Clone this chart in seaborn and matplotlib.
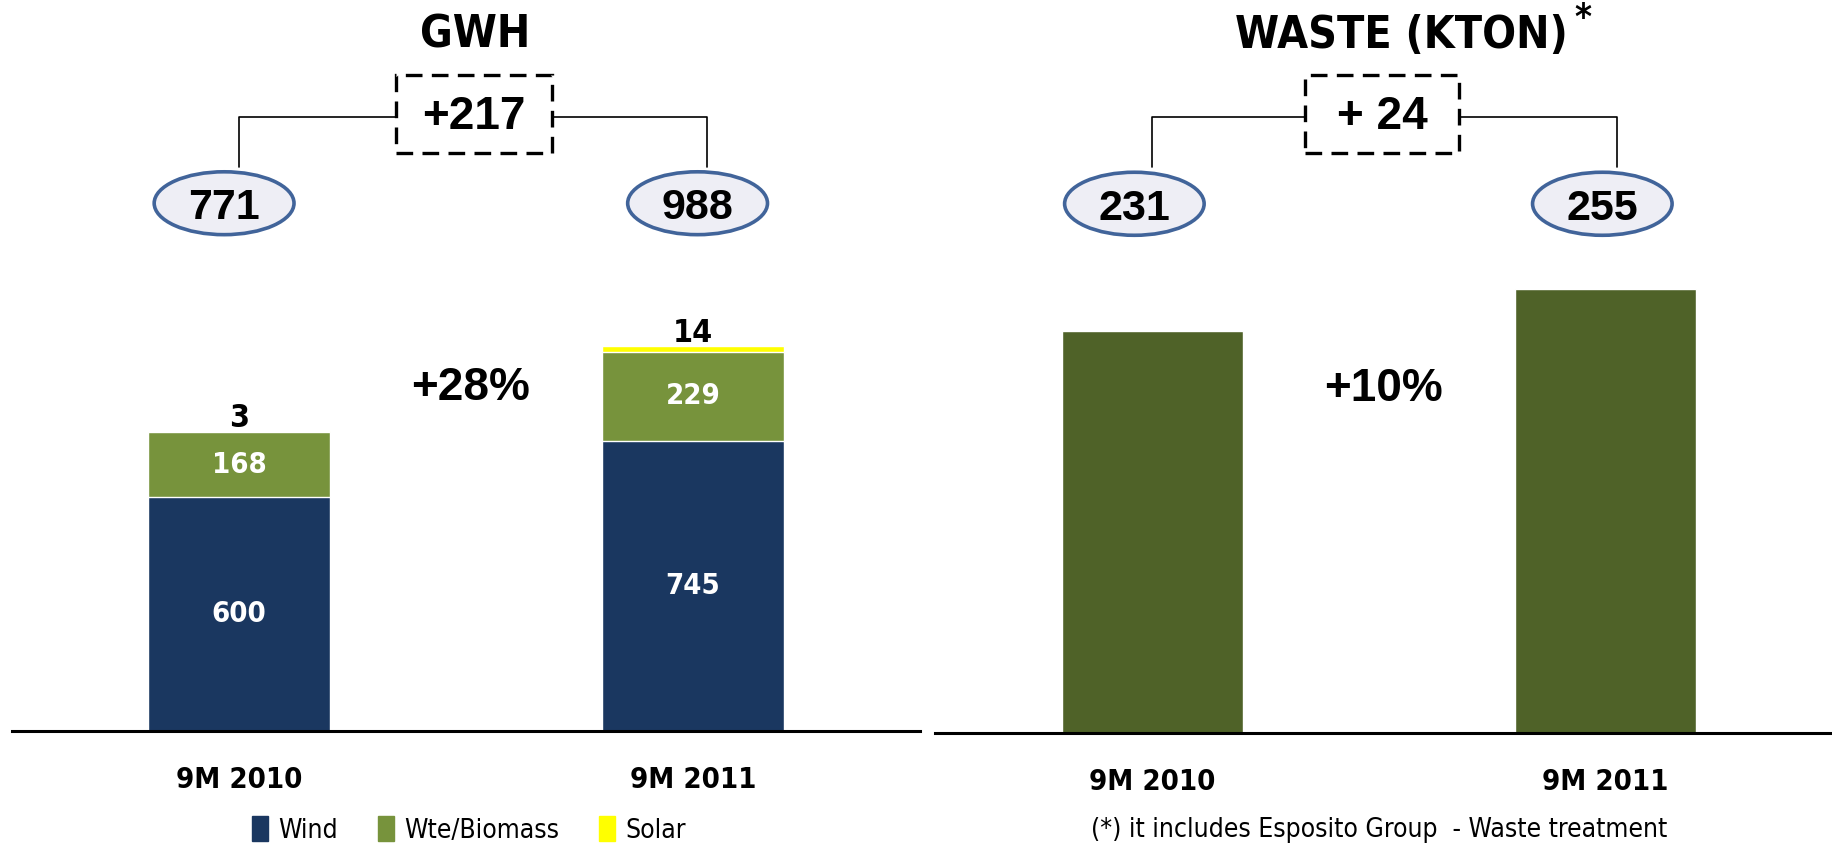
import matplotlib
matplotlib.use("Agg")
import matplotlib.pyplot as plt
import matplotlib.transforms as mtransforms
import matplotlib.font_manager as fm
from matplotlib.patches import Ellipse, Rectangle, Patch
import seaborn as sns

# data
periods = ["9M 2010", "9M 2011"]
wind = [600, 745]
wte_biomass = [168, 229]
solar = [3, 14]
gwh_total = [771, 988]
gwh_delta = "+217"
gwh_growth = "+28%"

waste_kton = [231, 255]
waste_delta = "+ 24"
waste_growth = "+10%"
footnote = "(*) it includes Esposito Group  - Waste treatment"

wind_color = "#1a3760"
wte_color = "#77933c"
solar_color = "#ffff00"
waste_color = "#4f6228"
oval_fill = "#eeeef5"
oval_edge = "#41649a"

sns.set_style("white")
plt.rcParams["font.family"] = ["Liberation Sans", "DejaVu Sans"]
plt.rcParams["text.color"] = "black"
plt.rcParams["xtick.color"] = "black"

# look for a narrow face (titles / labels on the slide use a condensed sans)
cond_bold, cond_reg = None, None
for f in fm.fontManager.ttflist:
    tag = (f.name + " " + f.fname + " " + str(f.stretch)).lower()
    if ("narrow" in tag or "condensed" in tag) and f.style == "normal":
        w = f.weight if isinstance(f.weight, int) else (700 if "bold" in str(f.weight) else 400)
        if w >= 600 and cond_bold is None:
            cond_bold = f.fname
        elif w < 600 and cond_reg is None:
            cond_reg = f.fname


def fp(size, bold=True):
    path = cond_bold if bold else cond_reg
    if path:
        return fm.FontProperties(fname=path, size=size)
    return fm.FontProperties(family=["Liberation Sans", "DejaVu Sans"],
                             weight="bold" if bold else "normal", size=size)


def arial(size):
    return fm.FontProperties(family=["Liberation Sans", "DejaVu Sans"], weight="bold",
                             size=size)


fig = plt.figure(figsize=(18.32, 8.46), dpi=100)
ax1 = fig.add_axes([0.0066, 0.1359, 0.4956, 0.8641])
ax2 = fig.add_axes([0.5104, 0.1336, 0.4896, 0.8664])

# stacked bars: draw cumulative totals from the top down
stack_top = [w + b + s for w, b, s in zip(wind, wte_biomass, solar)]
stack_mid = [w + b for w, b in zip(wind, wte_biomass)]
sns.barplot(x=periods, y=stack_top, color=solar_color, width=0.4, saturation=1, ax=ax1)
sns.barplot(x=periods, y=stack_mid, color=wte_color, width=0.4, saturation=1, ax=ax1)
sns.barplot(x=periods, y=wind, color=wind_color, width=0.4, saturation=1, ax=ax1)

sns.barplot(x=periods, y=waste_kton, color=waste_color, width=0.4, saturation=1, ax=ax2)

ax1.set_xlim(-0.5, 1.5)
ax1.set_ylim(0, 1878)
ax2.set_xlim(-0.48, 1.5)
ax2.set_ylim(0, 421)

for ax in (ax1, ax2):
    sns.despine(ax=ax, left=True)
    ax.spines["bottom"].set_linewidth(2.2)
    ax.spines["bottom"].set_color("black")
    ax.set_yticks([])
    ax.set_xlabel("")
    ax.set_ylabel("")
    ax.tick_params(axis="x", length=0, pad=25)
    for lab in ax.get_xticklabels():
        lab.set_fontproperties(fp(21))

# segment labels
for i in range(len(periods)):
    ax1.text(i, wind[i] / 2, str(wind[i]), ha="center", va="center",
             color="white", fontproperties=fp(21))
    ax1.text(i, wind[i] + wte_biomass[i] / 2, str(wte_biomass[i]), ha="center",
             va="center", color="white", fontproperties=fp(21))
    ax1.annotate(str(solar[i]), (i, stack_top[i]), xytext=(0, -2),
                 textcoords="offset points", ha="center", va="bottom",
                 fontproperties=fp(23))


def header(ax, title, totals, delta, growth, oval_x, link_x, box_x):
    tr = mtransforms.blended_transform_factory(ax.transData, ax.transAxes)
    ax.text(title[1], 0.952, title[0], transform=tr, ha="center", va="center",
            fontproperties=fp(32))
    # bracket lines
    ax.plot([link_x[0], link_x[0], box_x[0]], [0.772, 0.840, 0.840], color="black",
            lw=1.2, transform=tr, clip_on=False)
    ax.plot([box_x[1], link_x[1], link_x[1]], [0.840, 0.840, 0.772], color="black",
            lw=1.2, transform=tr, clip_on=False)
    box = Rectangle((box_x[0], 0.791), box_x[1] - box_x[0], 0.106, transform=tr,
                    fill=False, ec="black", lw=2.4, ls=(0, (5, 2.8)), clip_on=False)
    ax.add_patch(box)
    ax.text(sum(box_x) / 2, 0.840, delta, transform=tr, ha="center", va="center",
            fontproperties=arial(33))
    for x, val in zip(oval_x, totals):
        ax.add_patch(Ellipse((x, 0.722), 0.308, 0.086, transform=tr, fc=oval_fill,
                             ec=oval_edge, lw=2.6, clip_on=False))
        ax.text(x, 0.715, str(val), transform=tr, ha="center", va="center",
                fontproperties=arial(31))
    ax.text(0.51, 0.469, growth, transform=tr, ha="center", va="center",
            fontproperties=arial(33))


header(ax1, ("GWH", 0.52), gwh_total, gwh_delta, gwh_growth,
       oval_x=(-0.033, 1.01), link_x=(0.0, 1.03), box_x=(0.346, 0.69))
header(ax2, ("WASTE (KTON)", 0.55), waste_kton, waste_delta, waste_growth,
       oval_x=(-0.04, 0.993), link_x=(0.0, 1.025), box_x=(0.337, 0.676))
tr2 = mtransforms.blended_transform_factory(ax2.transData, ax2.transAxes)
ax2.text(0.95, 0.975, "*", transform=tr2, ha="center", va="center",
         fontproperties=fp(26))

handles = [Patch(color=wind_color, label="Wind"),
           Patch(color=wte_color, label="Wte/Biomass"),
           Patch(color=solar_color, label="Solar")]
fig.legend(handles=handles, loc="center", bbox_to_anchor=(0.256, 0.019), ncol=3,
           frameon=False, handlelength=0.6, handleheight=1.1, handletextpad=0.4,
           columnspacing=1.5, prop=fp(19, bold=False))

fig.text(0.753, 0.019, footnote, ha="center", va="center",
         fontproperties=fp(19, bold=False))

fig.savefig("out.png", dpi=100)
